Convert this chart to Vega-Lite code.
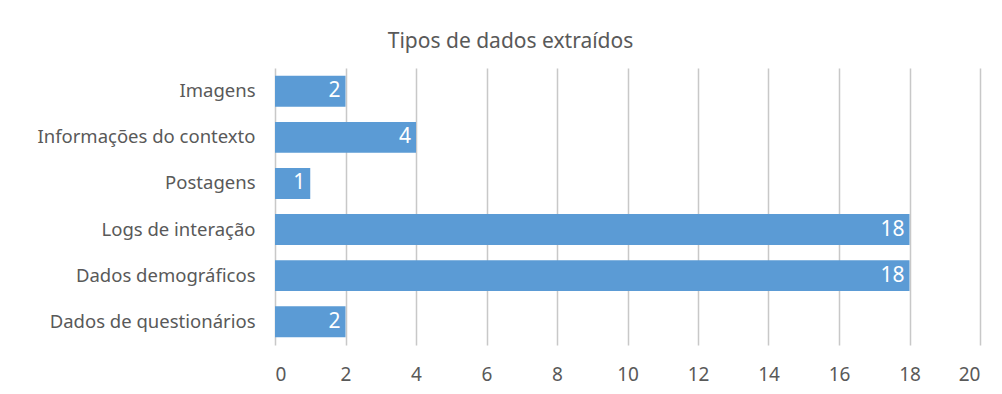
{
  "$schema": "https://vega.github.io/schema/vega-lite/v6.json",
  "autosize": {"type": "none"},
  "padding": {"left": 275, "top": 68, "right": 22, "bottom": 49},
  "width": 705,
  "height": 277,
  "background": "white",
  "config": {"view": {"stroke": null}, "font": "Noto Sans"},
  "title": {
    "text": "Tipos de dados extraídos",
    "fontSize": 21,
    "fontWeight": "normal",
    "color": "#595959",
    "font": "Noto Sans",
    "baseline": "alphabetic",
    "offset": 18,
    "dx": -117,
    "dy": 19
  },
  "data": {
    "values": [
      {"tipo": "Imagens", "n": 2},
      {"tipo": "Informações do contexto", "n": 4},
      {"tipo": "Postagens", "n": 1},
      {"tipo": "Logs de interação", "n": 18},
      {"tipo": "Dados demográficos", "n": 18},
      {"tipo": "Dados de questionários", "n": 2}
    ]
  },
  "encoding": {
    "y": {
      "field": "tipo",
      "type": "nominal",
      "sort": null,
      "scale": {"paddingInner": 0.33, "paddingOuter": 0.17},
      "axis": {
        "title": null,
        "domain": false,
        "ticks": false,
        "labelPadding": 20,
        "labelFontSize": 18.5,
        "labelLimit": 0,
        "labelColor": "#595959",
        "labelFont": "Noto Sans"
      }
    },
    "x": {
      "field": "n",
      "type": "quantitative",
      "scale": {"domain": [0, 20]},
      "axis": {
        "title": null,
        "domain": false,
        "ticks": false,
        "values": [0, 2, 4, 6, 8, 10, 12, 14, 16, 18, 20],
        "labelPadding": 20,
        "labelFontSize": 19,
        "labelColor": "#595959",
        "labelFont": "Noto Sans",
        "gridColor": "#c8c8c8",
        "gridWidth": 1.5
      }
    }
  },
  "layer": [
    {"mark": {"type": "bar", "color": "#5b9bd5"}},
    {
      "mark": {"type": "text", "align": "right", "dx": -5, "color": "white", "fontSize": 21, "font": "Noto Sans", "baseline": "middle"},
      "encoding": {"text": {"field": "n", "type": "quantitative"}}
    }
  ]
}
